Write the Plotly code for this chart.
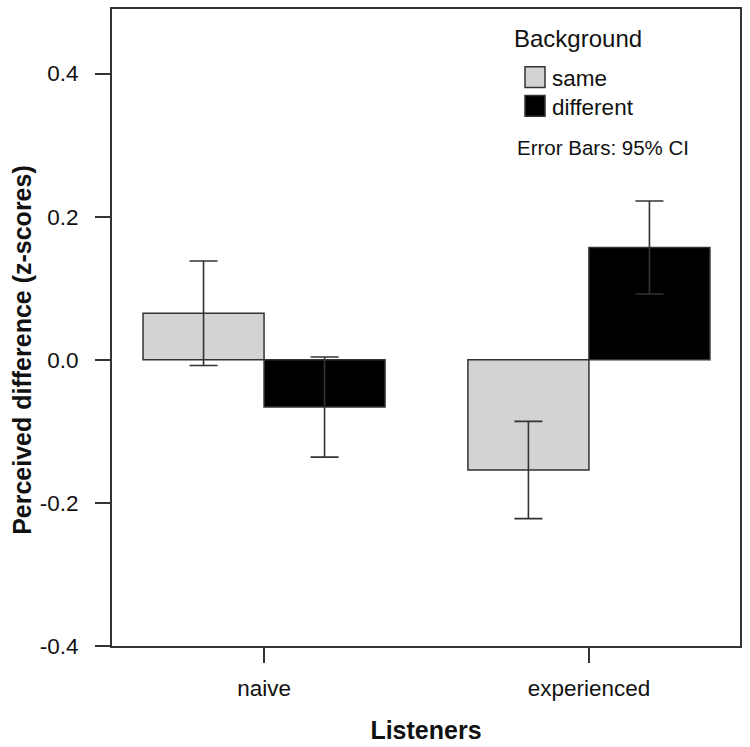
import plotly.graph_objects as go

# ---- data ----
listeners = ["naive", "experienced"]
same_mean = [0.065, -0.154]
same_ci_low = [-0.008, -0.222]
same_ci_high = [0.138, -0.086]
diff_mean = [-0.066, 0.157]
diff_ci_low = [-0.136, 0.092]
diff_ci_high = [0.004, 0.222]
y_tickvals = [-0.4, -0.2, 0.0, 0.2, 0.4]
y_ticktext = ["-0.4", "-0.2", "0.0", "0.2", "0.4"]

FONT = "Liberation Sans, Arial, sans-serif"
TXT = "#111111"
EDGE = "#333333"


def err(mean, lo, hi):
    return dict(
        type="data",
        symmetric=False,
        array=[h - m for m, h in zip(mean, hi)],
        arrayminus=[m - l for m, l in zip(mean, lo)],
        color=EDGE,
        thickness=1.6,
        width=14,
    )


fig = go.Figure()
fig.add_trace(go.Bar(
    x=listeners, y=same_mean, name="same",
    marker=dict(color="#d3d3d3", line=dict(color=EDGE, width=1.5)),
    error_y=err(same_mean, same_ci_low, same_ci_high),
    showlegend=False,
))
fig.add_trace(go.Bar(
    x=listeners, y=diff_mean, name="different",
    marker=dict(color="#000000", line=dict(color=EDGE, width=1.5)),
    error_y=err(diff_mean, diff_ci_low, diff_ci_high),
    showlegend=False,
))

# ---- custom legend (swatches + text) ----
def px_x(p):
    return (p - 112) / 628.0


def px_y(p):
    return (648 - p) / 641.0


fig.add_shape(type="rect", xref="paper", yref="paper",
              x0=px_x(525), x1=px_x(545), y0=px_y(86), y1=px_y(65),
              fillcolor="#d3d3d3", line=dict(color=EDGE, width=1.5))
fig.add_shape(type="rect", xref="paper", yref="paper",
              x0=px_x(525), x1=px_x(545), y0=px_y(115), y1=px_y(94),
              fillcolor="#000000", line=dict(color=EDGE, width=1.5))

fig.add_annotation(text="Background", xref="paper", yref="paper",
                   x=px_x(512), y=px_y(37), xanchor="left", yanchor="middle",
                   showarrow=False, font=dict(size=24, color=TXT, family=FONT))
fig.add_annotation(text="same", xref="paper", yref="paper",
                   x=px_x(550), y=px_y(77), xanchor="left", yanchor="middle",
                   showarrow=False, font=dict(size=22.5, color=TXT, family=FONT))
fig.add_annotation(text="different", xref="paper", yref="paper",
                   x=px_x(550), y=px_y(106), xanchor="left", yanchor="middle",
                   showarrow=False, font=dict(size=22.5, color=TXT, family=FONT))
fig.add_annotation(text="Error Bars: 95% CI", xref="paper", yref="paper",
                   x=px_x(515), y=px_y(146), xanchor="left", yanchor="middle",
                   showarrow=False, font=dict(size=20.5, color=TXT, family=FONT))

# y-axis title (placed as annotation to match the original's position)
fig.add_annotation(text="<b>Perceived difference (z-scores)</b>", xref="paper", yref="paper",
                   x=px_x(22), y=px_y(350), xanchor="center", yanchor="middle",
                   textangle=-90, showarrow=False,
                   font=dict(size=25, color=TXT, family=FONT))

fig.update_layout(
    width=750, height=747,
    margin=dict(l=112, r=10, t=7, b=99),
    paper_bgcolor="white", plot_bgcolor="white",
    barmode="group", bargap=0.255, bargroupgap=0,
    font=dict(family=FONT, color=TXT, size=22),
)
fig.update_xaxes(
    range=[-0.468, 1.465],
    showline=True, linecolor=EDGE, linewidth=2, mirror=True,
    ticks="outside", ticklen=15, tickwidth=2, tickcolor=EDGE,
    tickfont=dict(size=22.5, color=TXT, family=FONT),
    ticklabelstandoff=6,
    showgrid=False, zeroline=False,
    title=dict(text="<b>Listeners</b>", font=dict(size=25, color=TXT, family=FONT), standoff=21),
)
fig.update_yaxes(
    range=[-0.4, 0.4903],
    tickvals=y_tickvals, ticktext=y_ticktext,
    showline=True, linecolor=EDGE, linewidth=2, mirror=True,
    ticks="outside", ticklen=15, tickwidth=2, tickcolor=EDGE,
    tickfont=dict(size=22.5, color=TXT, family=FONT),
    ticklabelstandoff=12,
    showgrid=False, zeroline=False,
)

fig.write_html(
    "out.html",
    config={"displayModeBar": False},
    post_script="document.body.style.margin='0px';document.body.style.overflow='hidden';",
)
